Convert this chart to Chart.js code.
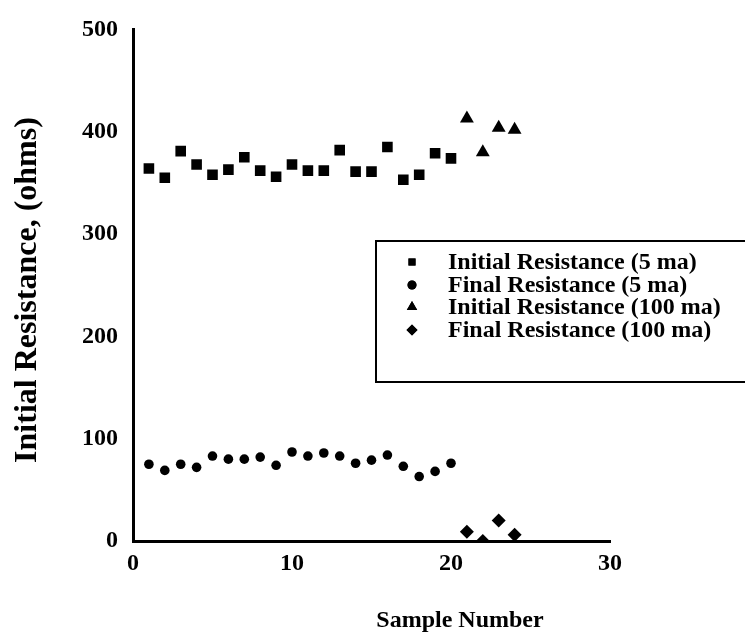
<!DOCTYPE html>
<html>
<head>
<meta charset="utf-8">
<title>Initial Resistance vs Sample Number</title>
<script src="https://cdn.jsdelivr.net/npm/chart.js@4.4.1/dist/chart.umd.min.js"></script>
<style>
  html, body { margin: 0; padding: 0; background: #fff; }
  #wrap { width: 745px; height: 637px; }
</style>
</head>
<body>
<div id="wrap"><canvas id="resistChart" width="745" height="637"></canvas></div>
<script>
// Datos
var muestras5 = [1, 2, 3, 4, 5, 6, 7, 8, 9, 10, 11, 12, 13, 14, 15, 16, 17, 18, 19, 20];
var muestras100 = [21, 22, 23, 24];
var inicial5 = [364, 355, 381, 368, 358, 363, 375, 362, 356, 368, 362, 362, 382, 361, 361, 385, 353, 358, 379, 374];
var final5 = [75, 69, 75, 72, 83, 80, 80, 82, 74, 87, 83, 86, 83, 76, 79, 84, 73, 63, 68, 76];
var inicial100 = [413, 380, 404, 402];
var final100 = [9, 0, 20, 6];
var etiquetas = ['Initial Resistance (5 ma)', 'Final Resistance (5 ma)', 'Initial Resistance (100 ma)', 'Final Resistance (100 ma)'];
var ticksX = [0, 10, 20, 30];
var ticksY = [0, 100, 200, 300, 400, 500];

var FUENTE = '"Liberation Serif", "Times New Roman", serif';

function puntos(xs, ys) {
    return xs.map(function (x, i) { return { x: x, y: ys[i] }; });
}

// Titulos de ejes y leyenda dibujados a mano
var decorado = {
    id: 'decorado',
    afterDraw: function (chart) {
        var ctx = chart.ctx;
        ctx.save();
        ctx.fillStyle = '#000';
        ctx.strokeStyle = '#000';

        // titulo eje x
        ctx.font = 'bold 24px ' + FUENTE;
        ctx.textAlign = 'center';
        ctx.textBaseline = 'middle';
        ctx.fillText('Sample Number', 460, 621);

        // titulo eje y
        ctx.save();
        ctx.translate(28, 290);
        ctx.rotate(-Math.PI / 2);
        ctx.font = 'bold 32px ' + FUENTE;
        ctx.fillText('Initial Resistance, (ohms)', 0, 0);
        ctx.restore();

        // leyenda
        ctx.lineWidth = 2;
        ctx.strokeRect(376, 241, 400, 141);
        ctx.font = 'bold 24px ' + FUENTE;
        ctx.textAlign = 'left';
        var filas = [262, 285, 307, 330];
        chart.data.datasets.forEach(function (ds, i) {
            var estilo = { pointStyle: ds.pointStyle, radius: ds.legendRadius, rotation: 0, borderWidth: 0 };
            Chart.helpers.drawPoint(ctx, estilo, 412, filas[i]);
            ctx.fill();
            ctx.fillText(ds.label, 448, filas[i] + 1);
        });
        ctx.restore();
    }
};

var ctx = document.getElementById('resistChart').getContext('2d');
var grafico = new Chart(ctx, {
    type: 'scatter',
    data: {
        datasets: [
            { label: etiquetas[0], data: puntos(muestras5, inicial5), pointStyle: 'rect', pointRadius: 7.5, legendRadius: 5 },
            { label: etiquetas[1], data: puntos(muestras5, final5), pointStyle: 'circle', pointRadius: 4.8, legendRadius: 4.5 },
            { label: etiquetas[2], data: puntos(muestras100, inicial100), pointStyle: 'triangle', pointRadius: 8, legendRadius: 6 },
            { label: etiquetas[3], data: puntos(muestras100, final100), pointStyle: 'rectRot', pointRadius: 7, legendRadius: 5.5 }
        ].map(function (ds) {
            ds.backgroundColor = '#000';
            ds.borderColor = '#000';
            ds.borderWidth = 0;
            ds.pointHoverRadius = ds.pointRadius;
            return ds;
        })
    },
    options: {
        responsive: false,
        animation: false,
        layout: { padding: { left: 0, right: 135, top: 22, bottom: 0 } },
        plugins: {
            legend: { display: false },
            tooltip: { enabled: false }
        },
        scales: {
            x: {
                type: 'linear',
                min: 0,
                max: 30,
                afterBuildTicks: function (scale) {
                    scale.ticks = ticksX.map(function (v) { return { value: v }; });
                },
                grid: { display: false, drawTicks: false },
                border: { display: true, color: '#000', width: 3 },
                ticks: { color: '#000', padding: 8, font: { family: FUENTE, size: 24, weight: 'bold' } },
                afterFit: function (scale) { scale.height = 96; }
            },
            y: {
                type: 'linear',
                min: 0,
                max: 500,
                afterBuildTicks: function (scale) {
                    scale.ticks = ticksY.map(function (v) { return { value: v }; });
                },
                grid: { display: false, drawTicks: false },
                border: { display: true, color: '#000', width: 3 },
                ticks: { color: '#000', padding: 15, font: { family: FUENTE, size: 24, weight: 'bold' } },
                afterFit: function (scale) { scale.width = 133; }
            }
        }
    },
    plugins: [decorado]
});
</script>
</body>
</html>
